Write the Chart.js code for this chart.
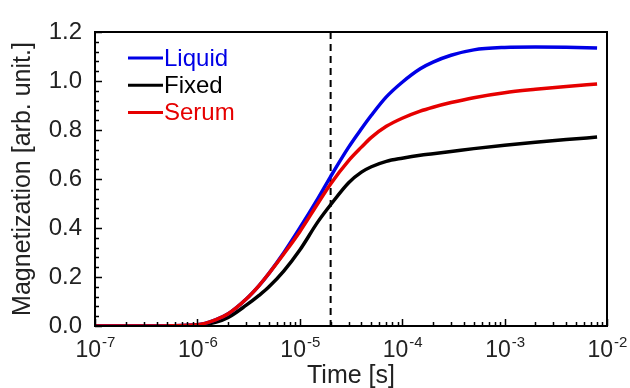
<!DOCTYPE html>
<html>
<head>
<meta charset="utf-8">
<script src="https://cdn.jsdelivr.net/npm/chart.js@4"></script>
<style>
  html, body { margin: 0; padding: 0; background: #fff; }
  #wrap { width: 630px; height: 388px; }
</style>
</head>
<body>
<div id="wrap"><canvas id="magChart"></canvas></div>
<script>
// time points [s] and magnetization
var times  = [1e-7, 3e-7, 1e-6, 1.5e-6, 2e-6, 3e-6, 4e-6, 5e-6, 7e-6, 1e-5, 1.5e-5, 2e-5, 3e-5, 4e-5, 5e-5, 7e-5, 1e-4, 1.5e-4, 2e-4, 3e-4, 5e-4, 1e-3, 2e-3, 4e-3, 8e-3];
var liquid = [0, 0, 0.005, 0.025, 0.05, 0.11, 0.165, 0.215, 0.30, 0.40, 0.52, 0.61, 0.73, 0.805, 0.86, 0.935, 0.995, 1.05, 1.077, 1.105, 1.127, 1.137, 1.139, 1.138, 1.135];
var fixed  = [0, 0, 0.002, 0.015, 0.035, 0.085, 0.125, 0.16, 0.225, 0.31, 0.425, 0.495, 0.585, 0.628, 0.65, 0.672, 0.685, 0.697, 0.703, 0.712, 0.724, 0.738, 0.75, 0.761, 0.771];
var serum  = [0, 0, 0.005, 0.025, 0.05, 0.11, 0.165, 0.215, 0.295, 0.385, 0.50, 0.58, 0.675, 0.73, 0.77, 0.815, 0.848, 0.877, 0.893, 0.912, 0.932, 0.952, 0.966, 0.978, 0.988];
var xTickExps = [-7, -6, -5, -4, -3, -2];
var yTicks = [0, 0.2, 0.4, 0.6, 0.8, 1.0, 1.2];
var markerTime = 2e-5;

var BLUE = 'rgb(0,0,230)', RED = 'rgb(230,0,0)', BLACK = '#000';
var FONT = '"Liberation Sans", Arial, sans-serif';

function pts(vals) {
    return times.map(function (t, i) { return { x: t, y: vals[i] }; });
}

// axis frame, inward ticks, dashed marker, x labels and legend
var decor = {
    id: 'decor',
    beforeDatasetsDraw: function (chart) {
        var ctx = chart.ctx, a = chart.chartArea, xs = chart.scales.x;
        var px = xs.getPixelForValue(markerTime);
        ctx.save();
        ctx.strokeStyle = BLACK;
        ctx.lineWidth = 2;
        ctx.setLineDash([7, 5]);
        ctx.beginPath();
        ctx.moveTo(px, a.top);
        ctx.lineTo(px, a.bottom);
        ctx.stroke();
        ctx.restore();
    },
    afterDraw: function (chart) {
        var ctx = chart.ctx, a = chart.chartArea;
        var xs = chart.scales.x, ys = chart.scales.y;
        ctx.save();
        ctx.strokeStyle = BLACK;
        ctx.lineWidth = 2;
        ctx.strokeRect(a.left, a.top, a.right - a.left, a.bottom - a.top);

        ctx.lineWidth = 1.5;
        ctx.beginPath();
        // x ticks
        for (var e = -7; e <= -3; e++) {
            for (var k = 1; k <= 10; k++) {
                var v = k * Math.pow(10, e);
                var p = Math.round(xs.getPixelForValue(v)) + 0.5;
                var len = (k === 1 || k === 10) ? 7 : 4;
                ctx.moveTo(p, a.bottom);
                ctx.lineTo(p, a.bottom - len);
            }
        }
        // y ticks
        for (var j = 0; j <= 30; j++) {
            var yv = j * 0.04;
            var py = Math.round(ys.getPixelForValue(yv)) + 0.5;
            var ylen = (j % 5 === 0) ? 7 : 4;
            ctx.moveTo(a.left, py);
            ctx.lineTo(a.left + ylen, py);
        }
        ctx.stroke();

        // x tick labels 10^n
        ctx.fillStyle = '#222';
        ctx.textBaseline = 'alphabetic';
        ctx.textAlign = 'left';
        xTickExps.forEach(function (n) {
            var base = '10', sup = '-' + Math.abs(n);
            ctx.font = '23px ' + FONT;
            var wb = ctx.measureText(base).width;
            ctx.font = '15px ' + FONT;
            var ws = ctx.measureText(sup).width;
            var cx = xs.getPixelForValue(Math.pow(10, n));
            var x0 = cx - (wb + ws) / 2;
            ctx.font = '23px ' + FONT;
            ctx.fillText(base, x0, 357);
            ctx.font = '15px ' + FONT;
            ctx.fillText(sup, x0 + wb + 1, 347);
        });

        // legend inside plot
        ctx.font = '24px ' + FONT;
        ctx.textBaseline = 'middle';
        [0, 1, 2].forEach(function (i) {
            var ds = chart.data.datasets[i];
            var y = 58 + i * 27.3;
            ctx.strokeStyle = ds.borderColor;
            ctx.lineWidth = 3;
            ctx.beginPath();
            ctx.moveTo(128, y);
            ctx.lineTo(163, y);
            ctx.stroke();
            ctx.fillStyle = ds.borderColor;
            ctx.fillText(ds.label, 164, y + 1);
        });
        ctx.restore();
    }
};

var ctx = document.getElementById('magChart').getContext('2d');
var myChart = new Chart(ctx, {
    type: 'line',
    data: {
        datasets: [{
            label: 'Liquid',
            data: pts(liquid),
            borderColor: BLUE,
            borderWidth: 3.5,
            order: 1
        }, {
            label: 'Fixed',
            data: pts(fixed),
            borderColor: BLACK,
            borderWidth: 3.5,
            order: 2
        }, {
            label: 'Serum',
            data: pts(serum),
            borderColor: RED,
            borderWidth: 3.5,
            order: 0
        }]
    },
    options: {
        responsive: true,
        maintainAspectRatio: false,
        animation: false,
        elements: {
            point: { radius: 0 },
            line: { cubicInterpolationMode: 'monotone', fill: false }
        },
        layout: { padding: { top: 32, right: 23, left: 0, bottom: 0 } },
        plugins: {
            legend: { display: false },
            tooltip: { enabled: false }
        },
        scales: {
            x: {
                type: 'logarithmic',
                min: 1e-7,
                max: 1e-2,
                grid: { display: false, drawTicks: false },
                border: { display: false },
                ticks: { display: false },
                title: {
                    display: true,
                    text: 'Time [s]',
                    color: '#222',
                    font: { family: FONT, size: 25 },
                    padding: { top: 0, bottom: -3 }
                },
                afterFit: function (s) { s.height = 62; }
            },
            y: {
                min: 0,
                max: 1.2,
                grid: { display: false, drawTicks: false },
                border: { display: false },
                afterBuildTicks: function (s) {
                    s.ticks = yTicks.map(function (v) { return { value: v }; });
                },
                ticks: {
                    color: '#222',
                    padding: 13,
                    font: { family: FONT, size: 24 },
                    callback: function (v) { return Number(v).toFixed(1); }
                },
                title: {
                    display: true,
                    text: 'Magnetization [arb. unit.]',
                    color: '#222',
                    font: { family: FONT, size: 25 },
                    padding: { top: 8, bottom: 0 }
                },
                afterFit: function (s) { s.width = 95; }
            }
        }
    },
    plugins: [decor]
});
</script>
</body>
</html>
